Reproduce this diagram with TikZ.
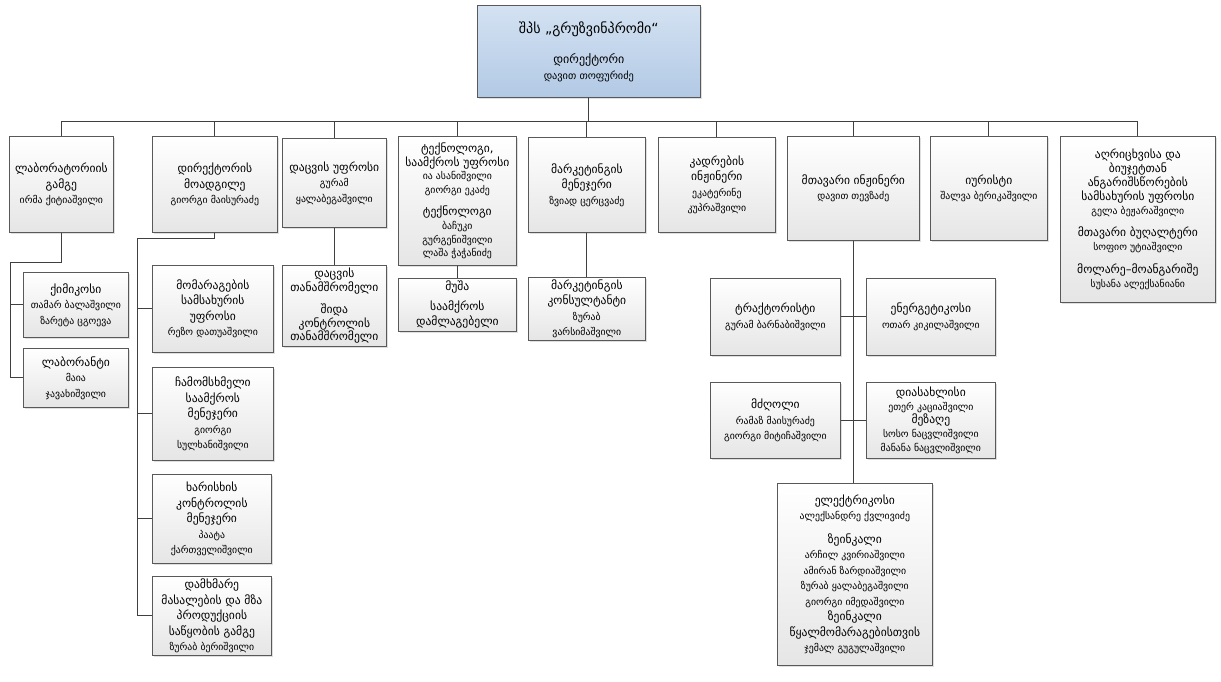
\documentclass[tikz,border=0pt]{standalone}
\usepackage{fontspec}
\setmainfont{DejaVu Sans}
\usetikzlibrary{shadows,calc}
\newcommand{\nmx}[1]{{\fontsize{9.8}{10}\selectfont #1}}
\tikzset{
  box/.style={draw=black!65, line width=0.7pt, top color=white, bottom color=black!10,
    drop shadow={shadow xshift=1.5pt, shadow yshift=-1.5pt, opacity=0.25},
    align=center, inner sep=0pt, anchor=north west,
    font=\fontsize{11.6}{15.5}\selectfont},
  dense/.style={box, font=\fontsize{11.6}{13.8}\selectfont},
  topbox/.style={box, top color={rgb,255:red,212;green,226;blue,242}, bottom color={rgb,255:red,178;green,201;blue,229}},
  conn/.style={draw=black!75, line width=0.8pt}
}
\newcommand{\bx}[6][box]{\node[#1, minimum width=#4-#2, minimum height=#5-#3] (#6) at (#2,#3)}
\begin{document}
\begin{tikzpicture}[x=1pt,y=-1pt]
\useasboundingbox (0,0) rectangle (1221,682);
% top
\bx[topbox]{477}{5}{700}{97}{top} {{\fontsize{14}{15}\selectfont შპს „გრუზვინპრომი“}\\[15pt] {\fontsize{12}{13}\selectfont დირექტორი}\\ {\fontsize{10.3}{11}\selectfont დავით თოფურიძე}};
% row 1
\bx{9}{136}{113}{232}{lab} {ლაბორატორიის\\ გამგე\\ \nmx{ირმა ქიტიაშვილი}};
\bx{152}{136}{277}{232}{dep} {დირექტორის\\ მოადგილე\\ \nmx{გიორგი მაისურაძე}};
\bx{282}{138}{386}{227}{sec} {დაცვის უფროსი\\ \nmx{გურამ}\\ \nmx{ყალაბეგაშვილი}};
\bx[dense]{398}{136}{516}{265}{tech} {ტექნოლოგი,\\ საამქროს უფროსი\\ \nmx{ია ასანიშვილი}\\ \nmx{გიორგი ეკაძე}\\[8pt] ტექნოლოგი\\ \nmx{ბაჩუკი}\\ \nmx{გურგენიშვილი}\\ \nmx{ლაშა ჭაჭანიძე}};
\bx{528}{137}{645}{232}{mkt} {მარკეტინგის\\ მენეჯერი\\ \nmx{ზვიად ცერცვაძე}};
\bx{658}{137}{775}{232}{cad} {კადრების\\ ინჟინერი\\ \nmx{ეკატერინე}\\ \nmx{კუპრაშვილი}};
\bx{787}{136}{919}{240}{chief} {მთავარი ინჟინერი\\ \nmx{დავით თევზაძე}};
\bx{930}{136}{1047}{240}{jur} {იურისტი\\ \nmx{შალვა ბერიკაშვილი}};
\bx[dense]{1060}{136}{1215}{302}{acct} {აღრიცხვისა და\\ ბიუჯეტთან\\ ანგარიშსწორების\\ სამსახურის უფროსი\\ \nmx{გელა ბეჟარაშვილი}\\[9pt] მთავარი ბუღალტერი\\ \nmx{სოფიო უტიაშვილი}\\[9pt] მოლარე–მოანგარიშე\\ \nmx{სუსანა ალექსანიანი}};
% lab children
\bx{23}{272}{128}{337}{chem} {ქიმიკოსი\\ \nmx{თამარ ბალაშვილი}\\ \nmx{ზარეტა ცგოევა}};
\bx{23}{348}{128}{407}{lant} {ლაბორანტი\\ \nmx{მაია}\\ \nmx{ჯავახიშვილი}};
% deputy children
\bx{152}{265}{273}{352}{sup} {მომარაგების\\ სამსახურის\\ უფროსი\\ \nmx{რეზო დათუაშვილი}};
\bx{152}{367}{273}{460}{cast} {ჩამომსხმელი\\ საამქროს\\ მენეჯერი\\ \nmx{გიორგი}\\ \nmx{სულხანიშვილი}};
\bx{152}{474}{271}{563}{qual} {ხარისხის\\ კონტროლის\\ მენეჯერი\\ \nmx{პაატა}\\ \nmx{ქართველიშვილი}};
\bx{152}{576}{271}{655}{ware} {დამხმარე\\ მასალების და მზა\\ პროდუქციის\\ საწყობის გამგე\\ \nmx{ზურაბ ბერიშვილი}};
% other children
\bx[dense]{282}{265}{386}{346}{sec2} {დაცვის\\ თანამშრომელი\\[8pt] შიდა\\ კონტროლის\\ თანამშრომელი};
\bx{398}{278}{516}{331}{tech2} {მუშა\\[4pt] საამქროს\\ დამლაგებელი};
\bx{528}{277}{645}{340}{mkt2} {მარკეტინგის\\ კონსულტანტი\\ \nmx{ზურაბ}\\ \nmx{ვარსიმაშვილი}};
\bx{710}{278}{840}{355}{trak} {ტრაქტორისტი\\ \nmx{გურამ ბარნაბიშვილი}};
\bx{866}{278}{995}{355}{ener} {ენერგეტიკოსი\\ \nmx{ოთარ კიკილაშვილი}};
\bx{710}{382}{840}{458}{mdz} {მძღოლი\\ \nmx{რამაზ მაისურაძე}\\ \nmx{გიორგი მიტიჩაშვილი}};
\bx[dense]{866}{382}{995}{458}{dias} {დიასახლისი\\ \nmx{ეთერ კაციაშვილი}\\ მეზაღე\\ \nmx{სოსო ნაცვლიშვილი}\\ \nmx{მანანა ნაცვლიშვილი}};
\bx{777}{483}{932}{665}{elec} {ელექტრიკოსი\\ \nmx{ალექსანდრე ქვლივიძე}\\[8pt] ზეინკალი\\ \nmx{არჩილ კვირიაშვილი}\\ \nmx{ამირან ზარდიაშვილი}\\ \nmx{ზურაბ ყალაბეგაშვილი}\\ \nmx{გიორგი იმედაშვილი}\\ ზეინკალი\\ წყალმომარაგებისთვის\\ \nmx{ჯემალ გუგულაშვილი}};
% connectors
\begin{scope}[conn]
\foreach \b in {lab,dep,sec,tech,mkt,cad,chief,jur,acct}
  \draw (top.south) -- ++(0,24) -| (\b.north);
\coordinate (labsp) at (10,262);
\draw (lab.south) |- (labsp) |- (chem.west);
\draw (labsp) |- (lant.west);
\coordinate (depsp) at (137,238);
\draw (dep.south) |- (depsp) |- (sup.west);
\draw (depsp) |- (cast.west);
\draw (depsp) |- (qual.west);
\draw (depsp) |- (ware.west);
\draw (sec.south) -- (sec2.north);
\draw (tech.south) -- (tech2.north);
\draw (mkt.south) -- (mkt2.north);
\draw (chief.south) -- (chief.south |- elec.north);
\draw (trak.east) -- (ener.west);
\draw (mdz.east) -- (dias.west);
\end{scope}
\end{tikzpicture}
\end{document}
